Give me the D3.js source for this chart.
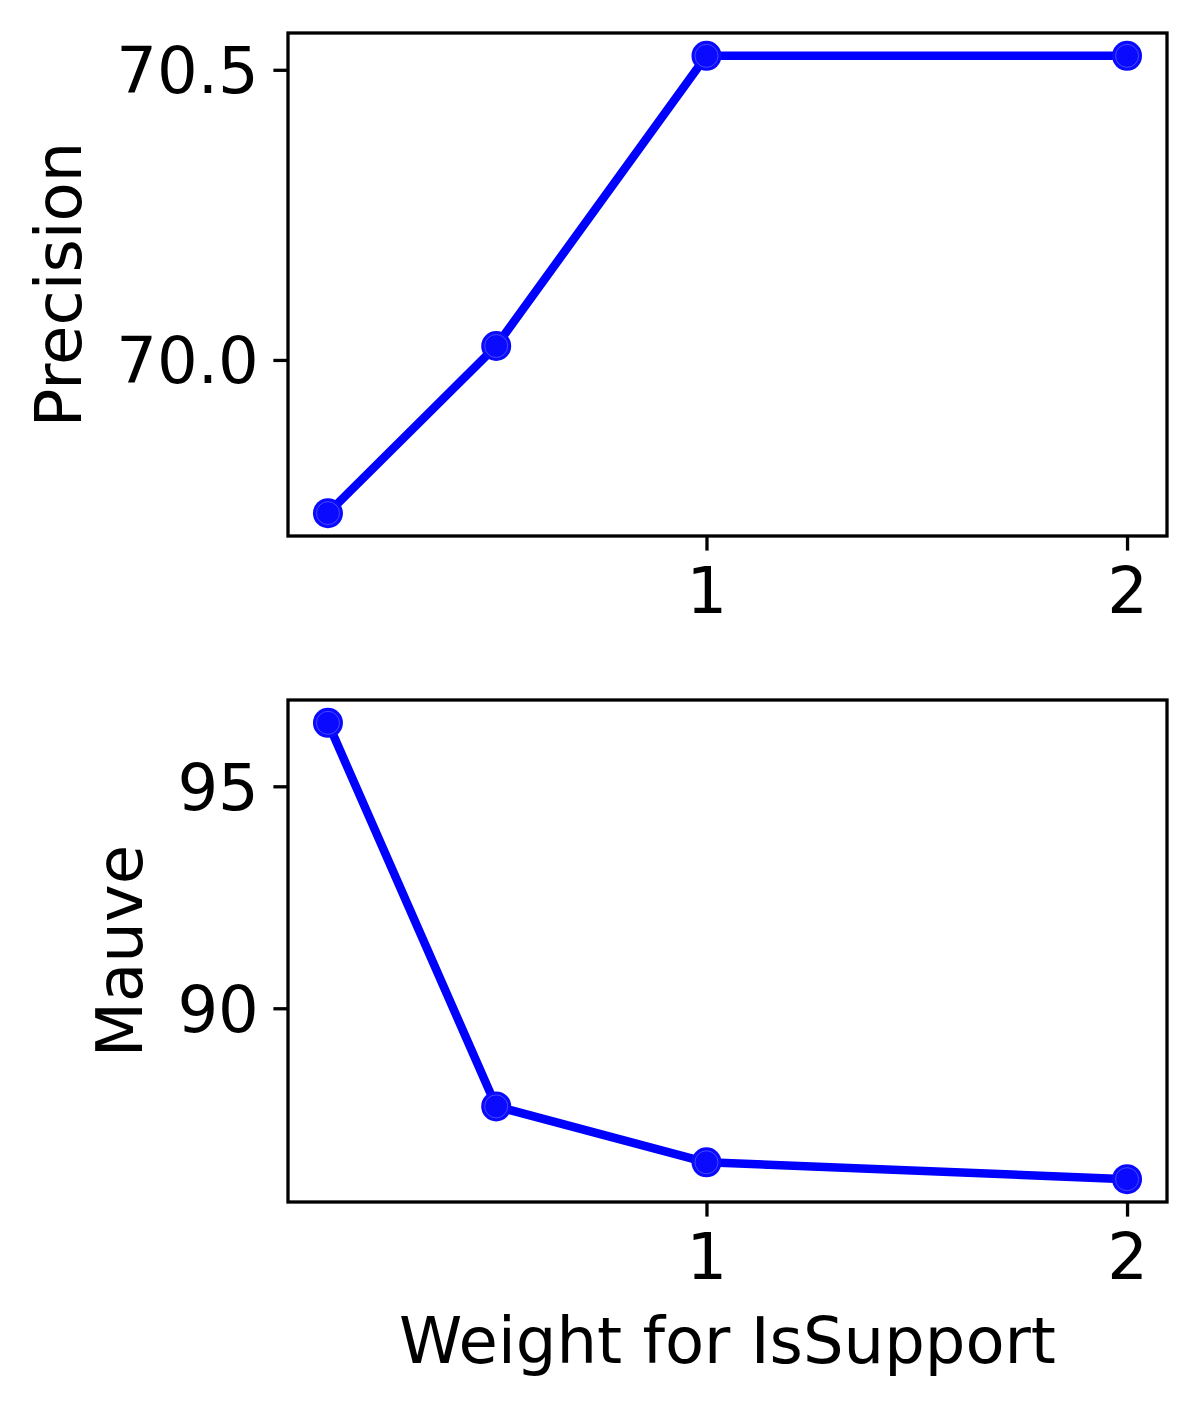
<!DOCTYPE html>
<html><head><meta charset="utf-8">
<script src="https://cdn.jsdelivr.net/npm/d3@7"></script>
<style>body{margin:0;background:#fff}svg{display:block}text{font-family:"DejaVu Sans",sans-serif;fill:#000}</style>
</head><body>
<svg id="c" width="1200" height="1410"></svg>
<script>
const weights = [0.1, 0.5, 1, 2];
const precision = [69.736, 70.024, 70.524, 70.524];
const mauve = [96.43, 87.79, 86.53, 86.15];
const xTicks = [1, 2];
const precisionTicks = [70.0, 70.5];
const mauveTicks = [90, 95];
const xLabel = "Weight for IsSupport";

const svg = d3.select("#c");
const L = 288, R = 1167;
const FS = 64;
const panels = [
  {vals: precision, ticks: precisionTicks, fmt: d3.format(".1f"), label: "Precision", top: 33, bottom: 536},
  {vals: mauve, ticks: mauveTicks, fmt: d3.format("d"), label: "Mauve", top: 700, bottom: 1202}
];
function padDomain(arr){const mn=d3.min(arr),mx=d3.max(arr),m=(mx-mn)*0.05;return [mn-m,mx+m];}
const x = d3.scaleLinear().domain(padDomain(weights)).range([L, R]);

panels.forEach((p, i) => {
  const y = d3.scaleLinear().domain(padDomain(p.vals)).range([p.bottom, p.top]);
  const g = svg.append("g");
  g.append("path").datum(p.vals.map((v,j)=>[weights[j], v]))
    .attr("d", d3.line().x(d=>x(d[0])).y(d=>y(d[1])))
    .attr("fill","none").attr("stroke","#0000ff").attr("stroke-width",8.5).attr("stroke-linejoin","round");
  const pts = g.selectAll("g.pt").data(p.vals.map((v,j)=>[weights[j], v])).enter().append("g");
  pts.append("circle").attr("cx",d=>x(d[0])).attr("cy",d=>y(d[1])).attr("r",15).attr("fill","#0a0aff");
  pts.append("circle").attr("cx",d=>x(d[0])).attr("cy",d=>y(d[1])).attr("r",11.5).attr("fill","none")
    .attr("stroke","rgba(110,110,255,0.6)").attr("stroke-width",1);
  const xa = g.append("g").attr("transform",`translate(0,${p.bottom})`)
    .call(d3.axisBottom(x).tickValues(xTicks).tickFormat(d3.format("d")).tickSize(14.6).tickPadding(14.6));
  const ya = g.append("g").attr("transform",`translate(${L},0)`)
    .call(d3.axisLeft(y).tickValues(p.ticks).tickFormat(p.fmt).tickSize(14.6).tickPadding(14.6));
  [xa, ya].forEach(a => {
    a.select(".domain").remove();
    a.selectAll(".tick line").attr("stroke","#000").attr("stroke-width",3.3);
    a.selectAll(".tick text").attr("font-size",FS).attr("fill","#000").style("font-family","DejaVu Sans");
  });
  xa.selectAll(".tick text").attr("dy","0.74em");
  ya.selectAll(".tick text").attr("dy","0.36em");
  g.append("rect").attr("x",L).attr("y",p.top).attr("width",R-L).attr("height",p.bottom-p.top)
    .attr("fill","none").attr("stroke","#000").attr("stroke-width",3.3);
  let minX = Infinity;
  ya.selectAll(".tick text").each(function(){const b=this.getBBox();const m=this.getCTM();minX=Math.min(minX, b.x + m.e);});
  const lx = minX - 35;
  g.append("text").attr("transform",`translate(${lx},${(p.top+p.bottom)/2}) rotate(-90)`)
    .attr("text-anchor","middle").attr("font-size",FS).text(p.label);
});
svg.append("text").attr("x",(L+R)/2).attr("y",1363).attr("text-anchor","middle").attr("font-size",FS).text(xLabel);
</script>
</body></html>
